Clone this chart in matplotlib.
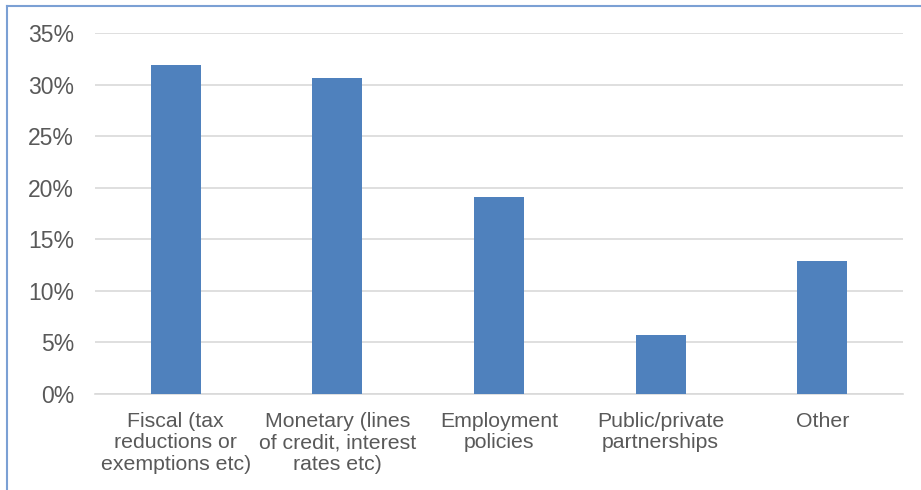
import matplotlib.pyplot as plt
from matplotlib.lines import Line2D
from matplotlib.ticker import FuncFormatter, MultipleLocator

categories = [
    "Fiscal (tax\nreductions or\nexemptions etc)",
    "Monetary (lines\nof credit, interest\nrates etc)",
    "Employment\npolicies",
    "Public/private\npartnerships",
    "Other",
]
shares = [31.9, 30.6, 19.1, 5.7, 12.9]

plt.rcParams['font.family'] = ['Liberation Sans', 'DejaVu Sans']

fig = plt.figure(figsize=(9.21, 4.9), dpi=100)
ax = fig.add_axes([95 / 921, 1 - 394 / 490, (903 - 95) / 921, (394 - 33) / 490])

x = range(len(categories))
ax.bar(x, shares, width=0.31, color='#4F81BD', zorder=3)

ax.set_xlim(-0.5, len(categories) - 0.5)
ax.set_ylim(0, 35)
ax.yaxis.set_major_locator(MultipleLocator(5))
ax.yaxis.set_major_formatter(FuncFormatter(lambda v, _: f"{v:.0f}%"))
ax.grid(axis='y', color='#D9D9D9', linewidth=1.2, zorder=0)

ax.set_xticks(list(x))
ax.set_xticklabels(categories, fontsize=15.3, color='#595959', linespacing=1.15)
ax.tick_params(axis='y', labelsize=16.5, colors='#595959', length=0, pad=15)
ax.tick_params(axis='x', length=0, pad=13)

for side in ['top', 'right', 'left']:
    ax.spines[side].set_visible(False)
ax.spines['bottom'].set_color('#D9D9D9')
ax.spines['bottom'].set_linewidth(1.2)

# frame around the chart (left and top edges)
fig.add_artist(Line2D([7 / 921, 7 / 921], [0, 1 - 6 / 490], color='#7BA0D4', linewidth=1.5))
fig.add_artist(Line2D([7 / 921, 1], [1 - 6 / 490, 1 - 6 / 490], color='#7BA0D4', linewidth=1.5))

fig.savefig('out.png', dpi=100)
